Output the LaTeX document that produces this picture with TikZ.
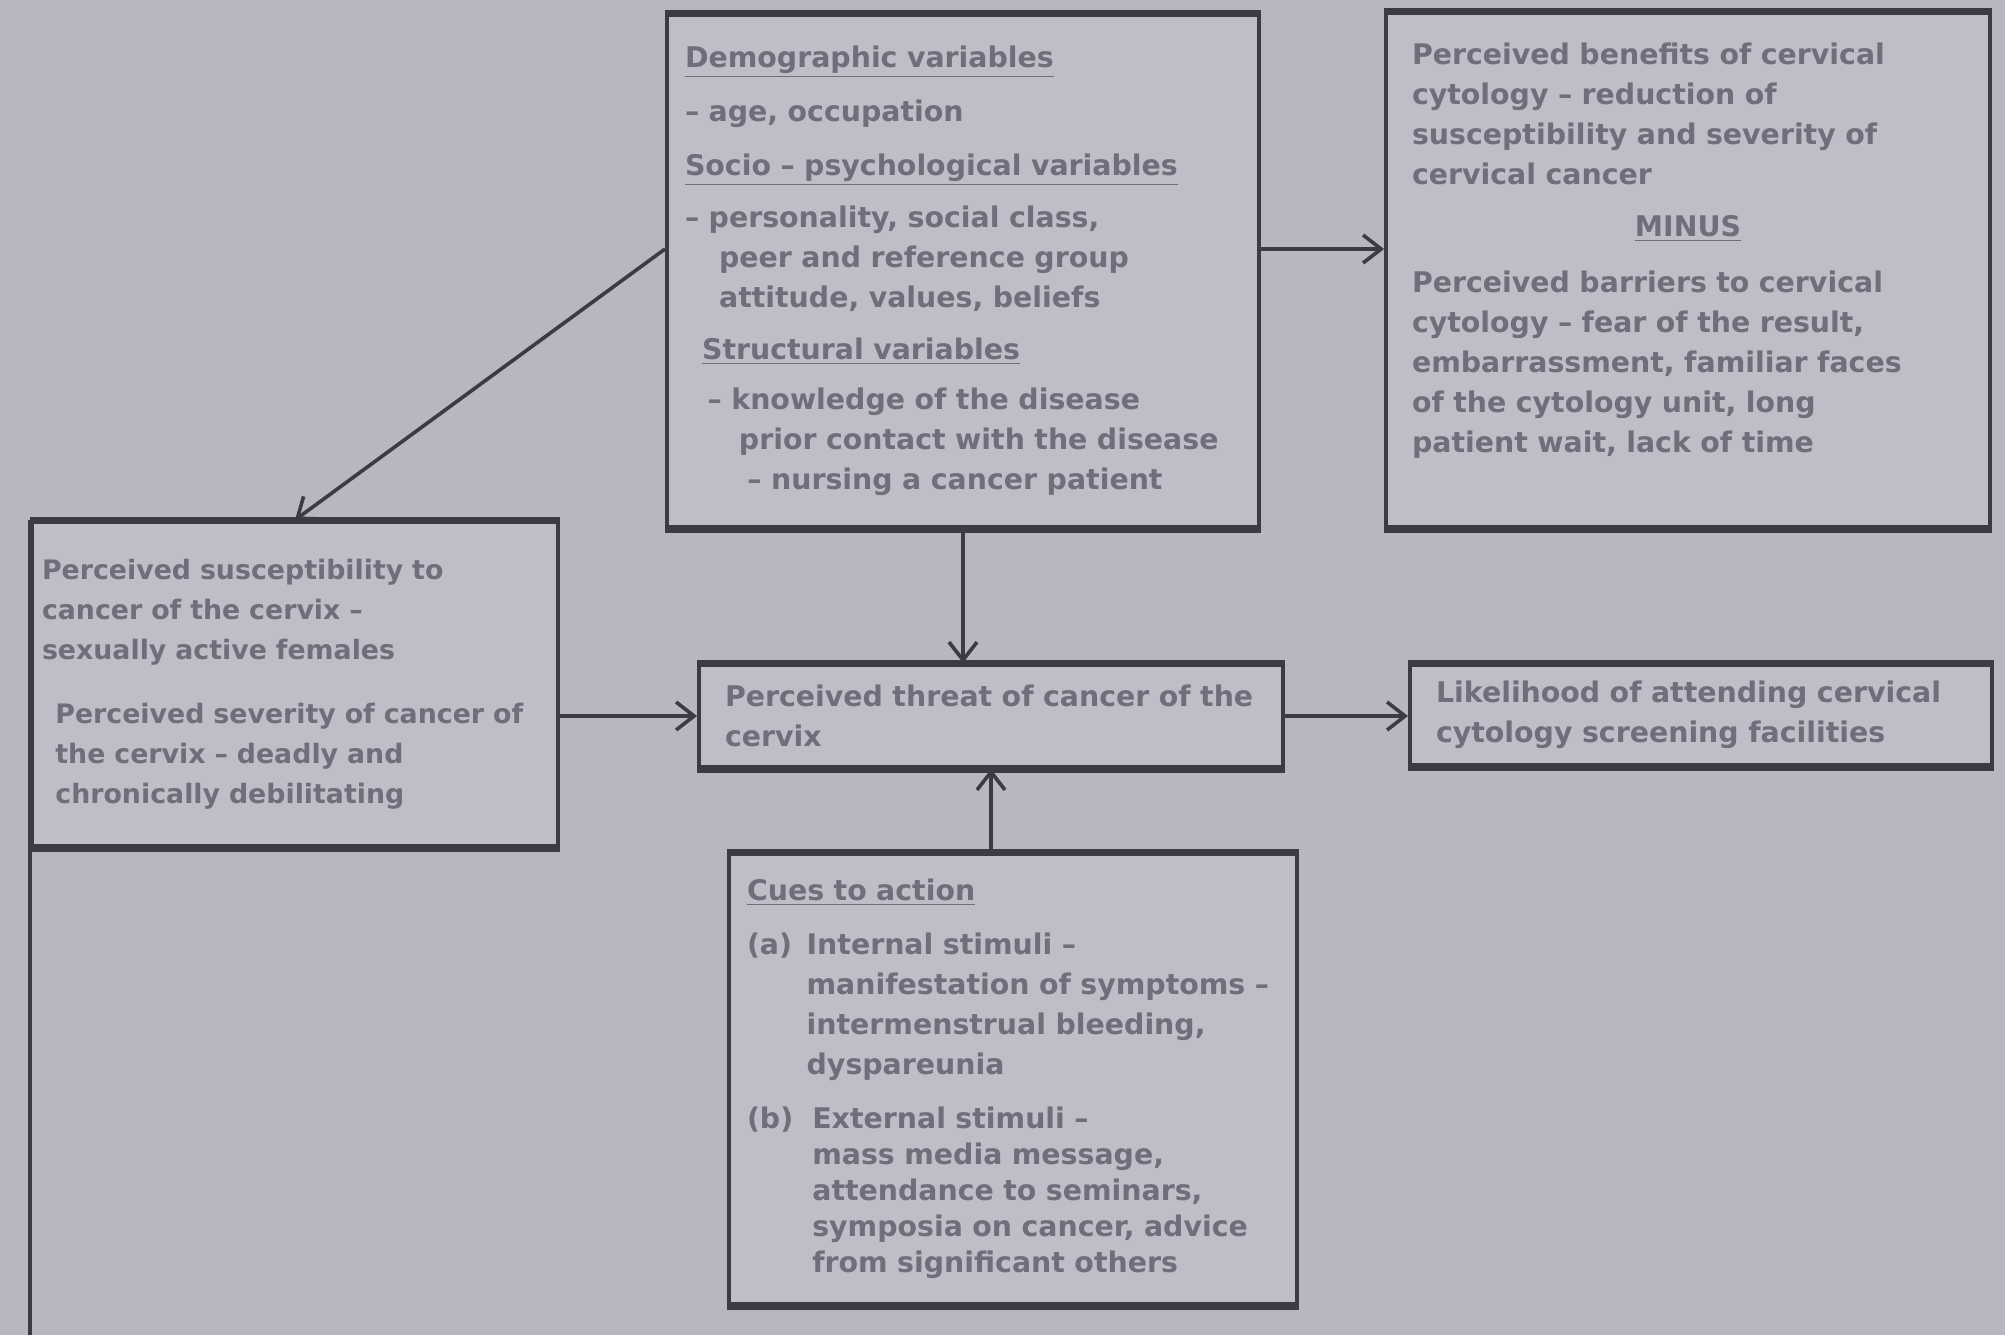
\documentclass[tikz,border=0pt]{standalone}
\usepackage{fontspec}
\setmainfont{DejaVu Sans}
\usetikzlibrary{arrows.meta,positioning}
\definecolor{ink}{HTML}{3A3B45}
\definecolor{paper}{HTML}{B6B7C1}
\definecolor{boxbg}{HTML}{BDBEC8}
\definecolor{pencil}{HTML}{6F6E7A}
\begin{document}
\begin{tikzpicture}[x=0.5pt,y=-0.5pt,>={Straight Barb[length=9pt,width=14pt]},
  b/.style={draw=ink,line width=2pt,fill=boxbg,align=left,text=pencil,inner ysep=0pt,inner xsep=9pt,
    font=\fontsize{14.2}{20}\selectfont\bfseries},
  arr/.style={->,draw=ink,line width=1.8pt}]
\fill[paper] (0,0) rectangle (2005,1335);
\useasboundingbox (0,0) rectangle (2005,1335);
\node[b,text width=278pt,minimum height=256pt](dem) at (963,271){%
\underline{Demographic variables}\\[7pt]
– age, occupation\\[7pt]
\underline{Socio – psychological variables}\\[6pt]
– personality, social class,\\
\hspace*{1.2em}peer and reference group\\
\hspace*{1.2em}attitude, values, beliefs\\[6pt]
\hspace*{0.6em}\underline{Structural variables}\\[5pt]
\hspace*{0.8em}– knowledge of the disease\\
\hspace*{1.9em}prior contact with the disease\\
\hspace*{2.2em}– nursing a cancer patient};
\node[b,inner xsep=13pt,text width=276pt,minimum height=257pt](ben) at (1688,270){%
Perceived benefits of cervical\\
cytology – reduction of\\
susceptibility and severity of\\
cervical cancer\\[6pt]
\makebox[\linewidth][c]{\underline{MINUS}}\\[8pt]
Perceived barriers to cervical\\
cytology – fear of the result,\\
embarrassment, familiar faces\\
of the cytology unit, long\\
patient wait, lack of time\\[2pt]
\mbox{}};
\node[b,inner xsep=5pt,text width=253pt,minimum height=162pt,
  font=\fontsize{13.4}{20}\selectfont\bfseries](sus) at (295,684){%
Perceived susceptibility to\\
cancer of the cervix –\\
sexually active females\\[12pt]
\hspace*{0.5em}Perceived severity of cancer of\\
\hspace*{0.5em}the cervix – deadly and\\
\hspace*{0.5em}chronically debilitating};
\node[b,inner xsep=13pt,text width=266pt,minimum height=51pt](thr) at (991,716){%
Perceived threat of cancer of the\\
cervix};
\node[b,inner xsep=13pt,text width=265pt,minimum height=50pt](lik) at (1701,715){%
Likelihood of attending cervical\\
cytology screening facilities};
\node[b,inner xsep=9pt,text width=266pt,minimum height=225pt](cue) at (1013,1079){%
\underline{Cues to action}\\[7pt]
\makebox[2.1em][l]{(a)}Internal stimuli –\\
\hspace*{2.1em}manifestation of symptoms –\\
\hspace*{2.1em}intermenstrual bleeding,\\
\hspace*{2.1em}dyspareunia\\[7pt]
\makebox[2.3em][l]{(b)}External stimuli –\\[-2pt]
\hspace*{2.3em}mass media message,\\[-2pt]
\hspace*{2.3em}attendance to seminars,\\[-2pt]
\hspace*{2.3em}symposia on cancer, advice\\[-2pt]
\hspace*{2.3em}from significant others};
\foreach \n in {dem,ben,sus,thr,lik,cue}
  \draw[ink,line width=3.5pt](\n.north west)--(\n.north east)(\n.south west)--(\n.south east);
\coordinate (lb) at (32,1335);
\draw[ink,line width=2pt](sus.north west)--(sus.north west |- lb);
\draw[arr]([yshift=11pt]dem.west)--(sus.north);
\draw[arr]([yshift=11pt]dem.east)--([yshift=11pt]dem.east -| ben.west);
\draw[arr](dem.south)--(dem.south |- thr.north);
\draw[arr](sus.east |- thr.west)--(thr.west);
\draw[arr](thr.east)--(thr.east -| lik.west);
\draw[arr](cue.north -| thr.south)--(thr.south);
\end{tikzpicture}
\end{document}
